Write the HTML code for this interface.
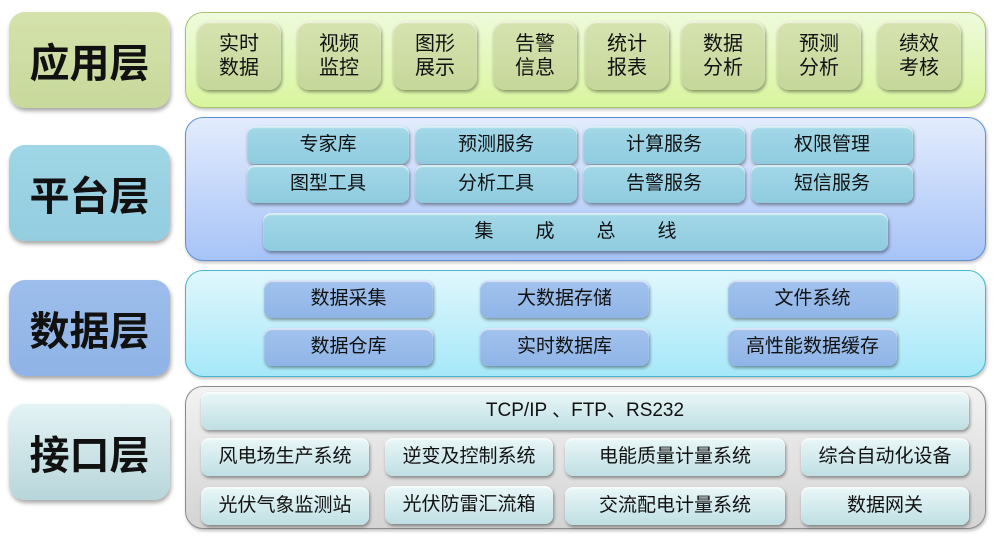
<!DOCTYPE html>
<html><head><meta charset="utf-8"><style>
body{margin:0;width:996px;height:540px;background:#fff;position:relative;overflow:hidden;font-family:"Liberation Sans","Noto Sans CJK SC","WenQuanYi Zen Hei",sans-serif;}
div{position:absolute;box-sizing:border-box;}
.lab{left:9px;width:161px;border-radius:16px;font-weight:bold;font-size:40px;display:flex;align-items:center;justify-content:center;color:#111;box-shadow:1px 3px 4px rgba(0,0,0,.35);}
.pan{left:185px;width:801px;border-radius:18px;box-shadow:1px 2px 3px rgba(0,0,0,.25);}
.b{border-radius:8px;display:flex;align-items:center;justify-content:center;font-size:19px;color:#111;box-shadow:1px 2px 3px rgba(0,0,0,.4), inset 0 2px 1px rgba(255,255,255,.6);text-align:center;line-height:24px;}
.a{top:21px;height:69px;width:84px;background:linear-gradient(#d6e3b0,#c6d79a);border-radius:12px;font-size:20px;}
.p{height:38px;width:162px;background:linear-gradient(#a3d8e8,#8fcbdf);}
.d{height:38px;width:169px;background:linear-gradient(#a2c3ee,#8fb4e6);}
.i{height:38px;background:linear-gradient(#eaf7f8,#bfdfe3);}
</style></head><body>
<div class="lab" style="top:12px;height:96px;background:linear-gradient(#d4e2ab,#c8d99c)">应用层</div>
<div class="lab" style="top:145px;height:96px;background:linear-gradient(#a0d6e5,#93cde0)">平台层</div>
<div class="lab" style="top:280px;height:96px;background:linear-gradient(#9dbeec,#8fb3e6)">数据层</div>
<div class="lab" style="top:404px;height:96px;background:linear-gradient(#e3f3f5,#b8d6da)">接口层</div>

<div class="pan" style="top:12px;height:96px;background:linear-gradient(#effbdc,#d9f59e);border:1px solid #a6c36a"></div>
<div class="b a" style="left:197px">实时<br>数据</div>
<div class="b a" style="left:297px">视频<br>监控</div>
<div class="b a" style="left:393px">图形<br>展示</div>
<div class="b a" style="left:493px">告警<br>信息</div>
<div class="b a" style="left:585px">统计<br>报表</div>
<div class="b a" style="left:681px">数据<br>分析</div>
<div class="b a" style="left:777px">预测<br>分析</div>
<div class="b a" style="left:877px">绩效<br>考核</div>

<div class="pan" style="top:117px;height:144px;background:linear-gradient(#e3ecfd,#a7c3f7);border:1px solid #5d8fd3"></div>
<div class="b p" style="left:247px;top:126px">专家库</div>
<div class="b p" style="left:415px;top:126px">预测服务</div>
<div class="b p" style="left:583px;top:126px">计算服务</div>
<div class="b p" style="left:751px;top:126px">权限管理</div>
<div class="b p" style="left:247px;top:165px">图型工具</div>
<div class="b p" style="left:415px;top:165px">分析工具</div>
<div class="b p" style="left:583px;top:165px">告警服务</div>
<div class="b p" style="left:751px;top:165px">短信服务</div>
<div class="b p" style="left:263px;top:213px;width:625px;letter-spacing:42px;padding-left:42px;justify-content:center;padding-right:0">集成总线</div>

<div class="pan" style="top:270px;height:107px;background:linear-gradient(#e0f7fd,#a6e8f8);border:1px solid #48b5d0"></div>
<div class="b d" style="left:264px;top:280px">数据采集</div>
<div class="b d" style="left:480px;top:280px">大数据存储</div>
<div class="b d" style="left:728px;top:280px">文件系统</div>
<div class="b d" style="left:264px;top:328px">数据仓库</div>
<div class="b d" style="left:480px;top:328px">实时数据库</div>
<div class="b d" style="left:728px;top:328px">高性能数据缓存</div>

<div class="pan" style="top:386px;height:143px;background:linear-gradient(#f2f2f2,#d4d4d4);border:1px solid #8a8a8a"></div>
<div class="b i" style="left:201px;top:392px;width:768px">TCP/IP 、FTP、RS232</div>
<div class="b i" style="left:201px;top:438px;width:168px">风电场生产系统</div>
<div class="b i" style="left:385px;top:438px;width:168px">逆变及控制系统</div>
<div class="b i" style="left:565px;top:438px;width:220px">电能质量计量系统</div>
<div class="b i" style="left:801px;top:438px;width:168px">综合自动化设备</div>
<div class="b i" style="left:201px;top:487px;width:168px">光伏气象监测站</div>
<div class="b i" style="left:385px;top:486px;width:168px">光伏防雷汇流箱</div>
<div class="b i" style="left:565px;top:487px;width:220px">交流配电计量系统</div>
<div class="b i" style="left:801px;top:487px;width:168px">数据网关</div>
</body></html>
